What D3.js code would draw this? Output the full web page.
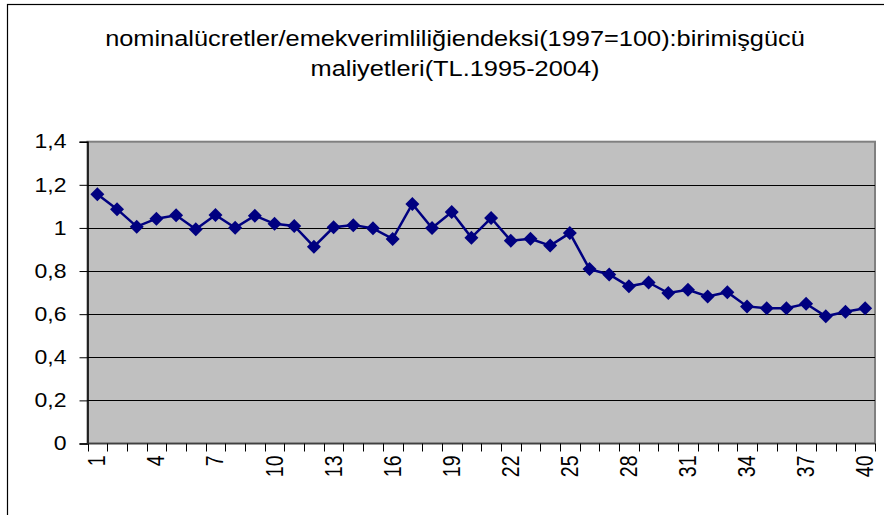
<!DOCTYPE html>
<html>
<head>
<meta charset="utf-8">
<script src="https://cdn.jsdelivr.net/npm/d3@7"></script>
<style>
  body { margin: 0; background: #fff; }
  svg { display: block; font-family: Arial, "Liberation Sans", sans-serif; }
</style>
</head>
<body>
<svg id="chart"></svg>
<script>
// data
var categories = d3.range(1, 41);
var values = [
  1.156, 1.087, 1.006, 1.043, 1.059, 0.994, 1.060, 1.001, 1.057, 1.019,
  1.009, 0.913, 1.003, 1.013, 0.998, 0.949, 1.111, 1.000, 1.074, 0.955,
  1.046, 0.941, 0.950, 0.918, 0.976, 0.809, 0.784, 0.729, 0.747, 0.698,
  0.713, 0.682, 0.702, 0.636, 0.627, 0.627, 0.648, 0.590, 0.611, 0.627
];
var yTicks = [0, 0.2, 0.4, 0.6, 0.8, 1, 1.2, 1.4];
var xLabels = [1, 4, 7, 10, 13, 16, 19, 22, 25, 28, 31, 34, 37, 40];
var titleLines = [
  "nominalücretler/emekverimliliğiendeksi(1997=100):birimişgücü",
  "maliyetleri(TL.1995-2004)"
];

var width = 884, height = 515;
var plot = { left: 87.5, right: 875, top: 141.7, bottom: 443.5 };
var stretch = 1.18; // the original is drawn a bit wide

var svg = d3.select("#chart").attr("width", width).attr("height", height);

// chart area border (only top and left show inside the frame)
svg.append("rect")
  .attr("x", 7.5).attr("y", 4.5)
  .attr("width", 940).attr("height", 600)
  .attr("fill", "#fff").attr("stroke", "#000").attr("stroke-width", 1.2);

svg.append("g")
  .selectAll("text")
  .data(titleLines)
  .enter()
  .append("text")
  .attr("transform", (d, i) => "translate(455," + (46 + i * 30) + ") scale(" + stretch + ",1)")
  .attr("text-anchor", "middle")
  .attr("font-size", 21.5)
  .attr("fill", "#000")
  .text((d) => d);

var x = d3.scaleBand().domain(categories).range([plot.left, plot.right]).padding(0);
var y = d3.scaleLinear().domain([0, 1.4]).range([plot.bottom, plot.top]);

var loc = d3.formatLocale({ decimal: ",", thousands: ".", grouping: [3], currency: ["", ""] });
var fmt = loc.format("~g");

// plot area
svg.append("rect")
  .attr("x", plot.left).attr("y", plot.top)
  .attr("width", plot.right - plot.left).attr("height", plot.bottom - plot.top)
  .attr("fill", "#c0c0c0").attr("stroke", "#808080").attr("stroke-width", 2);

// gridlines
svg.append("g")
  .selectAll("line")
  .data(yTicks.filter((d) => d > 0 && d < 1.4))
  .enter()
  .append("line")
  .attr("x1", plot.left).attr("x2", plot.right)
  .attr("y1", (d) => Math.round(y(d)) + 0.5).attr("y2", (d) => Math.round(y(d)) + 0.5)
  .attr("stroke", "#000").attr("stroke-width", 1);

// y axis
var yAxis = svg.append("g")
  .attr("transform", "translate(" + plot.left + ",0)")
  .call(d3.axisLeft(y).tickValues(yTicks).tickFormat(fmt).tickSize(8).tickPadding(0));
yAxis.select(".domain").attr("stroke", "#000").attr("stroke-width", 1.5);
yAxis.selectAll(".tick line").attr("stroke", "#000");
yAxis.selectAll("text")
  .attr("x", null)
  .attr("transform", "translate(-21,0) scale(" + stretch + ",1)")
  .attr("font-size", 19.5).attr("fill", "#000")
  .attr("font-family", "Arial, 'Liberation Sans', sans-serif");

// x axis: ticks on category boundaries
var bounds = categories.map((c) => x(c)).concat([plot.right]);
var xg = svg.append("g");
xg.append("line")
  .attr("x1", plot.left).attr("x2", plot.right)
  .attr("y1", plot.bottom).attr("y2", plot.bottom)
  .attr("stroke", "#404040").attr("stroke-width", 1.5);
xg.selectAll("line.tk")
  .data(bounds)
  .enter()
  .append("line")
  .attr("class", "tk")
  .attr("x1", (d) => Math.round(d) + 0.5).attr("x2", (d) => Math.round(d) + 0.5)
  .attr("y1", plot.bottom).attr("y2", plot.bottom + 8)
  .attr("stroke", "#000");
xg.selectAll("text")
  .data(xLabels)
  .enter()
  .append("text")
  .attr("transform", (d) => "translate(" + (x(d) + x.bandwidth() / 2 + 8) + "," + (plot.bottom + 12) + ") rotate(-90) scale(1," + stretch + ")")
  .attr("text-anchor", "end")
  .attr("font-size", 19.5)
  .attr("fill", "#000")
  .text((d) => d);

// series
var cx = (d, i) => x(categories[i]) + x.bandwidth() / 2;
svg.append("path")
  .datum(values)
  .attr("fill", "none")
  .attr("stroke", "#000080")
  .attr("stroke-width", 2.5)
  .attr("d", d3.line().x(cx).y((d) => y(d)));

svg.append("g")
  .selectAll("path")
  .data(values)
  .enter()
  .append("path")
  .attr("transform", (d, i) => "translate(" + cx(d, i) + "," + y(d) + ")")
  .attr("d", "M0,-7L7,0L0,7L-7,0Z")
  .attr("fill", "#000080");
</script>
</body>
</html>
